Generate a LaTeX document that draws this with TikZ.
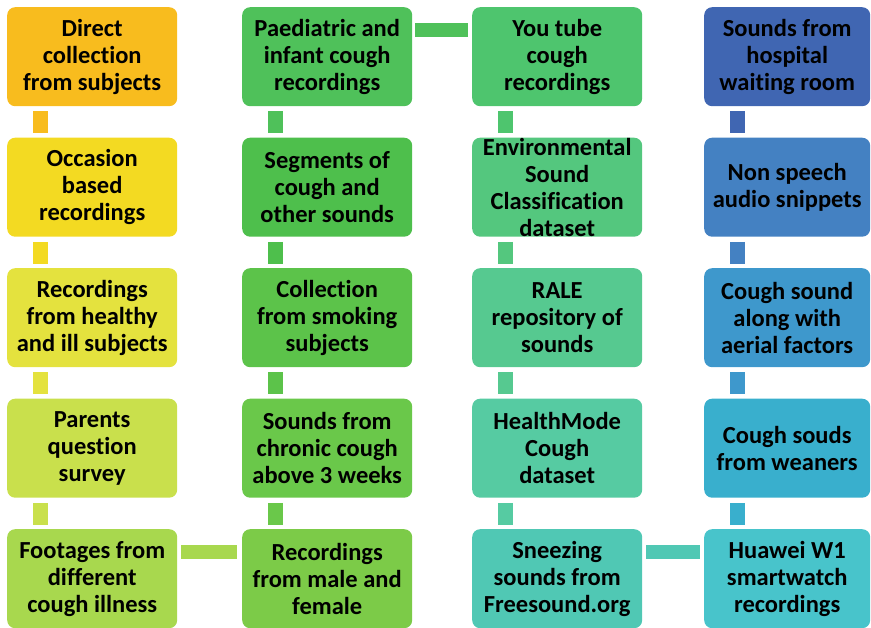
\documentclass[tikz,border=0pt]{standalone}
\usepackage{fontspec}
\setmainfont[Ligatures={NoCommon}]{Carlito}
\usepackage{xcolor}
\usepackage{tikz}
\usetikzlibrary{positioning}
\definecolor{ca1}{HTML}{F8BC1E}
\definecolor{ca2}{HTML}{F3DA22}
\definecolor{ca3}{HTML}{E4E23E}
\definecolor{ca4}{HTML}{C9E04C}
\definecolor{ca5}{HTML}{A8D84E}
\definecolor{cb1}{HTML}{4FC15A}
\definecolor{cb2}{HTML}{4EBF4C}
\definecolor{cb3}{HTML}{5CC34A}
\definecolor{cb4}{HTML}{6AC84A}
\definecolor{cb5}{HTML}{7CCB48}
\definecolor{cc1}{HTML}{4EC56E}
\definecolor{cc2}{HTML}{54C77E}
\definecolor{cc3}{HTML}{56C990}
\definecolor{cc4}{HTML}{56CBA2}
\definecolor{cc5}{HTML}{50C8B4}
\definecolor{cd1}{HTML}{4066B2}
\definecolor{cd2}{HTML}{4481C2}
\definecolor{cd3}{HTML}{3E98CC}
\definecolor{cd4}{HTML}{39AFCD}
\definecolor{cd5}{HTML}{48C4CB}

\begin{document}
\begin{tikzpicture}[x=1pt,y=-1pt]
    \tikzstyle{srcbox} = [anchor=north west,shape=rectangle,rounded corners=8pt,draw=none,text=black,align=center,inner sep=0,minimum width=170pt,minimum height=99pt,font=\bfseries\fontsize{24.5}{27}\selectfont]
    \tikzstyle{vlink} = [line width=15pt]
    \tikzstyle{hlink} = [line width=14pt]
    \useasboundingbox (0,0) rectangle (871,628);

    % first column, top to bottom
    \node[srcbox,fill=ca1] (a1) at (7,7) {Direct\\collection\\from subjects};
    \node[srcbox,fill=ca2] (a2) at (7,137.5) {Occasion\\based\\recordings};
    \node[srcbox,fill=ca3] (a3) at (7,268) {Recordings\\from healthy\\and ill subjects};
    \node[srcbox,fill=ca4] (a4) at (7,398.5) {Parents\\question\\survey};
    \node[srcbox,fill=ca5] (a5) at (7,529) {Footages from\\different\\cough illness};

    % second column
    \node[srcbox,fill=cb1] (b1) at (242,7) {Paediatric and\\infant cough\\recordings};
    \node[srcbox,fill=cb2] (b2) at (242,137.5) {Segments of\\cough and\\other sounds};
    \node[srcbox,fill=cb3] (b3) at (242,268) {Collection\\from smoking\\subjects};
    \node[srcbox,fill=cb4] (b4) at (242,398.5) {Sounds from\\chronic cough\\above 3 weeks};
    \node[srcbox,fill=cb5] (b5) at (242,529) {Recordings\\from male and\\female};

    % third column
    \node[srcbox,fill=cc1] (c1) at (472,7) {You tube\\cough\\recordings};
    \node[srcbox,fill=cc2] (c2) at (472,137.5) {Environmental\\Sound\\Classification\\dataset};
    \node[srcbox,fill=cc3] (c3) at (472,268) {RALE\\repository of\\sounds};
    \node[srcbox,fill=cc4] (c4) at (472,398.5) {HealthMode\\Cough\\dataset};
    \node[srcbox,fill=cc5] (c5) at (472,529) {Sneezing\\sounds from\\Freesound.org};

    % fourth column
    \node[srcbox,fill=cd1,minimum width=166pt] (d1) at (704,7) {Sounds from\\hospital\\waiting room};
    \node[srcbox,fill=cd2,minimum width=166pt] (d2) at (704,137.5) {Non speech\\audio snippets};
    \node[srcbox,fill=cd3,minimum width=166pt] (d3) at (704,268) {Cough sound\\along with\\aerial factors};
    \node[srcbox,fill=cd4,minimum width=166pt] (d4) at (704,398.5) {Cough souds\\from weaners};
    \node[srcbox,fill=cd5,minimum width=166pt] (d5) at (704,529) {Huawei W1\\smartwatch\\recordings};

    % vertical links
    \foreach \c in {a,b,c,d}
    {
        \foreach \r [evaluate=\r as \s using int(\r+1)] in {1,...,4}
        {
            \draw[vlink,color=c\c\r] ([xshift=33.5pt,yshift=-5pt]\c\r.south west) -- ([xshift=33.5pt,yshift=4pt]\c\s.north west);
        }
    }

    % horizontal links
    \draw[hlink,color=ca5] ([xshift=4pt,yshift=-23pt]a5.north east) -- ([xshift=-5pt,yshift=-23pt]b5.north west);
    \draw[hlink,color=cb1] ([xshift=3pt,yshift=-23pt]b1.north east) -- ([xshift=-4pt,yshift=-23pt]c1.north west);
    \draw[hlink,color=cc5] ([xshift=4pt,yshift=-23pt]c5.north east) -- ([xshift=-4pt,yshift=-23pt]d5.north west);
\end{tikzpicture}
\end{document}
